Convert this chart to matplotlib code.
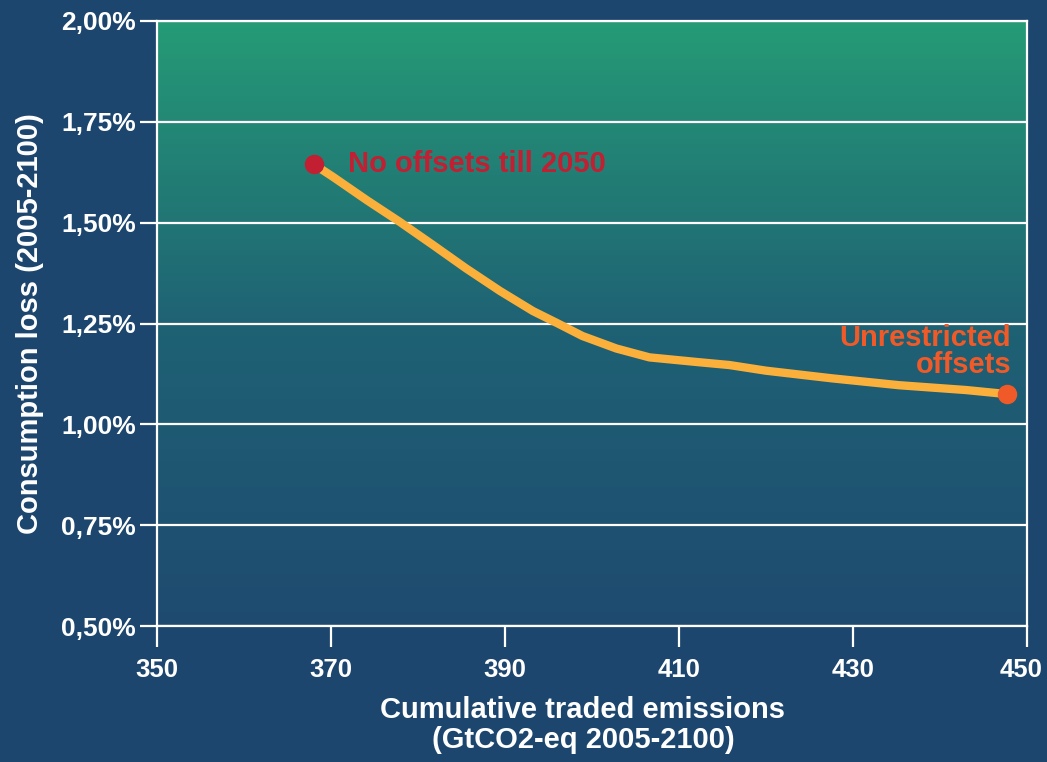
import matplotlib.pyplot as plt
import numpy as np
from matplotlib.colors import LinearSegmentedColormap
from matplotlib.ticker import FuncFormatter
from matplotlib.transforms import ScaledTranslation

emissions = [368.0, 370.2, 374.1, 377.9, 381.7, 385.5, 389.4, 393.2, 395.9, 398.9,
             402.8, 406.6, 412.3, 415.8, 420.0, 427.6, 435.3, 443.0, 447.7]
loss = [1.645, 1.614, 1.556, 1.502, 1.445, 1.387, 1.331, 1.281, 1.252, 1.219,
        1.188, 1.166, 1.154, 1.147, 1.133, 1.114, 1.097, 1.085, 1.075]
x_ticks = [350, 370, 390, 410, 430, 450]
y_ticks = [0.50, 0.75, 1.00, 1.25, 1.50, 1.75, 2.00]

bg = '#1d466e'
line_col = '#fbb03b'
red = '#c21f32'
orange = '#f05a28'

plt.rcParams['font.family'] = ['Liberation Sans', 'DejaVu Sans']
plt.rcParams['font.weight'] = 'bold'

fig = plt.figure(figsize=(10.47, 7.62), dpi=100, facecolor=bg)
ax = fig.add_axes([157 / 1047, 136 / 762, 870 / 1047, 605 / 762])
ax.set_facecolor(bg)

cmap = LinearSegmentedColormap.from_list('bg', ['#1e4a70', '#1f6274', '#259b76'])
grad = np.linspace(0, 1, 256).reshape(-1, 1)
ax.imshow(grad, extent=[350, 450, 0.5, 2.0], origin='lower', aspect='auto', cmap=cmap, zorder=0)

ax.set_xlim(350, 450)
ax.set_ylim(0.5, 2.0)
ax.set_xticks(x_ticks)
ax.set_yticks(y_ticks)
ax.yaxis.set_major_formatter(FuncFormatter(lambda v, p: f'{v:.2f}'.replace('.', ',') + '%'))
ax.grid(axis='y', color='white', linewidth=1.6)
for s in ax.spines.values():
    s.set_color('white')
    s.set_linewidth(1.6)
ax.tick_params(axis='both', colors='white', width=1.6)
ax.tick_params(axis='y', length=12, pad=3, labelsize=19)
ax.tick_params(axis='x', length=15, pad=8, labelsize=18.5)

# keep the last x label inside the figure, as in the reference
last = ax.get_xticklabels()[-1]
last.set_transform(last.get_transform() + ScaledTranslation(-6 / 100, 0, fig.dpi_scale_trans))

ax.plot(emissions, loss, color=line_col, linewidth=6, solid_capstyle='round',
        solid_joinstyle='round', zorder=3)
ax.plot(emissions[0], loss[0], 'o', color=red, markersize=13, zorder=4)
ax.plot(emissions[-1], loss[-1], 'o', color=orange, markersize=13, zorder=4)

ax.text(371.9, loss[0], 'No offsets till 2050', color=red, fontsize=21,
        fontweight='bold', ha='left', va='center')
ax.text(448.2, 1.18, 'Unrestricted\noffsets', color=orange, fontsize=21,
        fontweight='bold', ha='right', va='center', multialignment='right', linespacing=0.95)

ax.set_xlabel('Cumulative traded emissions\n(GtCO2-eq 2005-2100)', color='white',
              fontsize=21, fontweight='bold', linespacing=1.1)
ax.xaxis.set_label_coords((583 - 157) / 870, -0.115)
ax.set_ylabel('Consumption loss (2005-2100)', color='white', fontsize=21, fontweight='bold')
ax.yaxis.set_label_coords(-0.13, 0.5)

plt.savefig('out.png', dpi=100, facecolor=bg)
